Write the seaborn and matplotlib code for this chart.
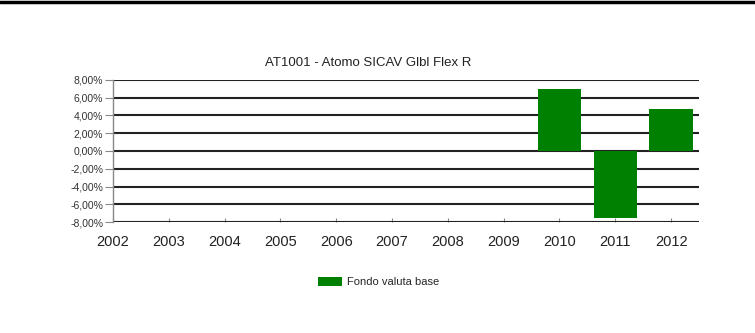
import numpy as np
import pandas as pd
import seaborn as sns
import matplotlib.pyplot as plt
from matplotlib.lines import Line2D
from matplotlib.patches import Patch

# data
all_years = ['2002', '2003', '2004', '2005', '2006', '2007', '2008', '2009', '2010', '2011', '2012']
years = ['2010', '2011', '2012']
returns = [6.95, -7.6, 4.75]
y_ticks = [-8, -6, -4, -2, 0, 2, 4, 6, 8]
title = 'AT1001 - Atomo SICAV Glbl Flex R'
series_name = 'Fondo valuta base'

sns.set_style('white')
plt.rcParams['font.family'] = ['Liberation Sans', 'DejaVu Sans']

df = pd.DataFrame({'year': years, 'ret': returns})

fig = plt.figure(figsize=(7.55, 3.33), dpi=100)
ax = fig.add_axes([0.1497, 0.3333, 0.7761, 0.4265])

sns.barplot(data=df, x='year', y='ret', order=all_years, color='#008000',
            saturation=1, width=0.78, linewidth=0, ax=ax, zorder=3)

ax.set_ylim(-8, 8)
ax.set_xlim(0, 10.5)
ax.set_yticks(y_ticks)
ax.yaxis.set_major_formatter(plt.FuncFormatter(lambda v, p: ('%.2f%%' % v).replace('.', ',')))
for v in y_ticks:
    ax.axhline(v, color='#222222', lw=1.5, zorder=2)

ax.set_xlabel('')
ax.set_ylabel('')
for s in ['top', 'right', 'bottom']:
    ax.spines[s].set_visible(False)
ax.spines['left'].set_color('#888888')
ax.spines['left'].set_linewidth(1)

ax.tick_params(axis='y', left=True, length=6, width=0.8, color='#888888',
               labelsize=7.5, labelcolor='#333333', pad=1)
ax.tick_params(axis='x', bottom=True, direction='in', length=3, width=0.8,
               color='#888888', labelsize=10.5, labelcolor='#222222', pad=9)

fig.text(368 / 755, 1 - 63 / 333, title, ha='center', va='center',
         fontsize=9.5, color='#222222')

handle = Patch(facecolor='#008000', edgecolor='none')
fig.legend([handle], [series_name], loc='center left',
           bbox_to_anchor=(308 / 755, 1 - 282 / 333), frameon=False,
           fontsize=8, handlelength=2.2, handleheight=0.9, handletextpad=0.4)

# table border line at the top of the picture
fig.add_artist(Line2D([0, 1], [1 - 2 / 333, 1 - 2 / 333], color='black', lw=2.5))

fig.savefig('out.png', dpi=100)
